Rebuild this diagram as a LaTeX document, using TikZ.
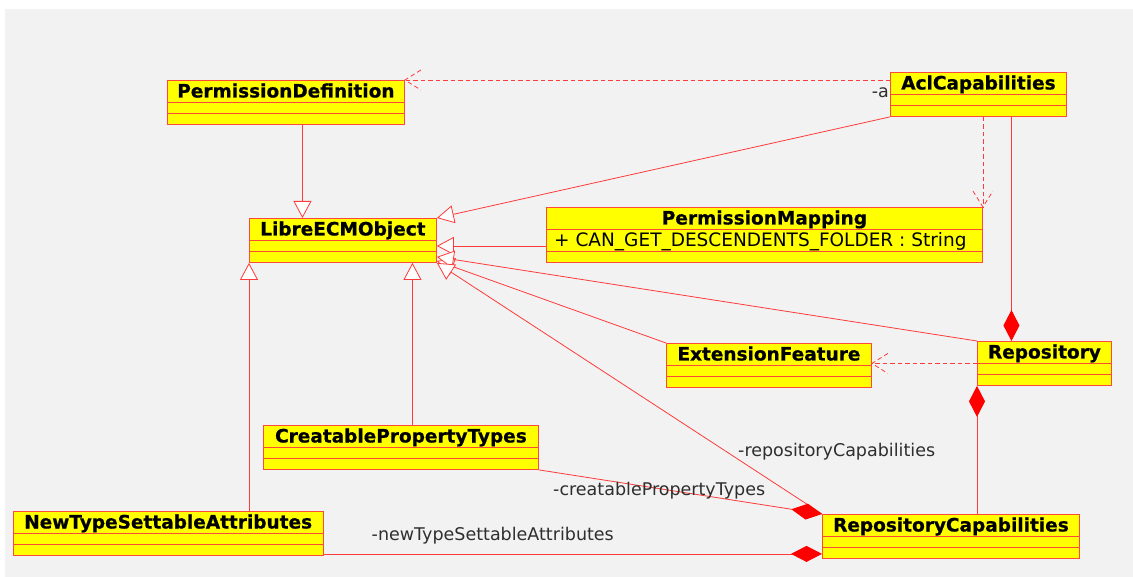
\documentclass[tikz,border=0pt]{standalone}
\usepackage{fontspec}
\setmainfont{DejaVu Sans}
\newfontfamily\titlefont{DejaVu Sans}[BoldFeatures={FakeBold=0.6}]
\usetikzlibrary{arrows.meta,calc}

\definecolor{bg}{HTML}{F2F2F2}
\definecolor{clsfill}{HTML}{FFFF00}
\definecolor{clsline}{HTML}{FF4A3A}
\definecolor{conn}{HTML}{FF3A3A}
\definecolor{diam}{HTML}{FF0000}

% UML class box: name, left, top, width, title (header 22, two empty compartments of 11)
\newcommand\umlbox[5]{%
  \node[cls, minimum width=#4, minimum height=44] (#1) at (#2,#3) {};
  \node[ctitle] (#1-t) at ([yshift=-17.5]#1.north) {#5};
  \draw[sep] ([yshift=-22]#1.north west) -- ([yshift=-22]#1.north east);
  \draw[sep] ([yshift=-33]#1.north west) -- ([yshift=-33]#1.north east);
}

\begin{document}
\begin{tikzpicture}[x=1pt,y=-1pt,
  cls/.style={draw=clsline, fill=clsfill, line width=0.9pt, rectangle, inner sep=0pt, anchor=north west},
  sep/.style={draw=clsline, line width=0.9pt},
  ctitle/.style={font=\titlefont\bfseries\fontsize{18.5}{20}\selectfont, inner sep=0pt, anchor=base},
  attr/.style={font=\fontsize{18.5}{20}\selectfont, inner sep=0pt, anchor=base west},
  lbl/.style={font=\fontsize{17.5}{19}\selectfont, inner sep=0pt, text=black!82},
  conn/.style={draw=conn, line width=0.8pt},
  gen/.style={conn, -{Triangle[length=17pt,width=18pt,fill=white]}},
  comp/.style={conn, {Diamond[length=31pt,width=16pt,fill=diam,color=diam]}-},
  depline/.style={conn, dash pattern=on 4.5pt off 3pt}
]
\useasboundingbox (0,0) rectangle (1133,577);
\fill[bg] (5,9) rectangle (1134,578);

% classes
\umlbox{pd}{167}{80}{237}{PermissionDefinition}
\umlbox{acl}{890}{72}{176}{AclCapabilities}
\umlbox{leo}{249}{218}{187}{LibreECMObject}
\umlbox{ef}{666}{343}{205}{ExtensionFeature}
\umlbox{repo}{977}{341}{134}{Repository}
\umlbox{cpt}{263}{425}{275}{CreatablePropertyTypes}
\umlbox{ntsa}{12.5}{511}{310.5}{NewTypeSettableAttributes}
\umlbox{rc}{822}{514}{257}{RepositoryCapabilities}

% class with one attribute
\node[cls, minimum width=436, minimum height=55] (pm) at (546,207) {};
\node[ctitle] (pm-t) at ([yshift=-17.5]pm.north) {PermissionMapping};
\draw[sep] ([yshift=-22]pm.north west) -- ([yshift=-22]pm.north east);
\draw[sep] ([yshift=-44]pm.north west) -- ([yshift=-44]pm.north east);
\node[attr] (pm-a) at ([xshift=8,yshift=-39.5]pm.north west) {+ CAN\_GET\_DESCENDENTS\_FOLDER : String};

% generalizations
\draw[gen] ([xshift=16.5]pd.south) -- ([xshift=16.5]pd.south |- leo.north);
\draw[gen] (acl.south west) -- (leo.north east);
\draw[gen] ([yshift=-11]pm.west) -- ([yshift=-11]pm.west -| leo.east);
\draw[gen] (ef.north west) -- ([yshift=2]leo.south east);
\draw[gen] (repo.north west) -- ([yshift=6]leo.south east);
\draw[gen] (rc.north west) -- (leo.south east);
\draw[gen] ([xshift=11.5]cpt.north) -- ([xshift=11.5]cpt.north |- leo.south);
\draw[gen] (leo.south west |- ntsa.north) -- (leo.south west);

% dependencies (dashed, open head)
\coordinate (pdTip) at (pd.north east);
\draw[depline] (pdTip -| acl.west) -- (pdTip);
\draw[depline] ($(pdTip)+(16,-10)$) -- (pdTip) -- ($(pdTip)+(16,10)$);
\coordinate (pmTip) at (pm.north east);
\draw[depline] (pmTip |- acl.south) -- (pmTip);
\draw[depline] ($(pmTip)+(-10,-16)$) -- (pmTip) -- ($(pmTip)+(10,-16)$);
\coordinate (efTip) at (repo.west -| ef.east);
\draw[depline] (repo.west) -- (efTip);
\draw[depline] ($(efTip)+(16,-10)$) -- (efTip) -- ($(efTip)+(16,10)$);

% compositions
\draw[comp] ([xshift=33]acl.south |- repo.north) -- ([xshift=33]acl.south);
\draw[comp] (repo.south west) -- (repo.south west |- rc.north);
\draw[comp] (rc.north west) -- (cpt.south east);
\draw[comp] ([yshift=5]rc.south west) -- ([yshift=5]rc.south west -| ntsa.east);

% role labels
\node[lbl, anchor=base east] (la) at (889,97.7) {-a};
\node[lbl, anchor=base west] (lrc) at (738,456) {-repositoryCapabilities};
\node[lbl, anchor=base west] (lcpt) at (553,495) {-creatablePropertyTypes};
\node[lbl, anchor=base west] (lnt) at (371.5,540) {-newTypeSettableAttributes};
\end{tikzpicture}
\end{document}
